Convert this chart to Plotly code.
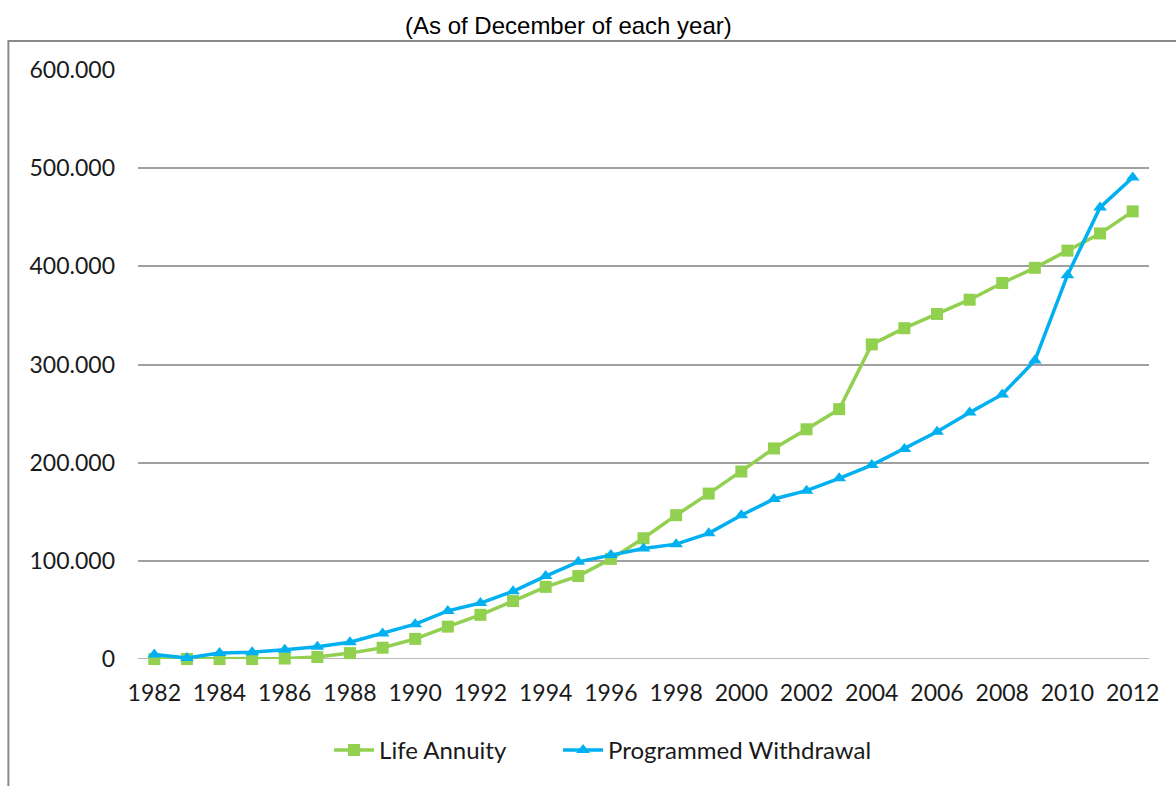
import plotly.graph_objects as go

# Years (December of each year)
years = list(range(1982, 2013))

# Number of pensions by modality
life_annuity = [0, 0, 0, 0, 0.5, 2, 6, 11.5, 20.5, 33, 45, 59, 73.5, 84.5, 102,
                123, 146.5, 168.5, 191, 214.5, 234, 254.5, 320.5, 337, 351.5,
                366, 383, 398.5, 416, 433.5, 456]
programmed_withdrawal = [4.5, 1, 6, 7, 9.5, 12.5, 17, 26, 35.5, 49, 57, 69,
                         84.5, 99, 106, 112.5, 117, 128, 146.5, 163, 171.5, 184,
                         197.5, 214, 231.5, 251, 269.5, 304, 391, 460, 490.5]

y_ticks = [0, 100, 200, 300, 400, 500, 600]
y_tick_labels = ["0", "100.000", "200.000", "300.000", "400.000", "500.000", "600.000"]

GREEN = "#92D050"
BLUE = "#00B0F0"
TICK_FONT = dict(family="Lato, Noto Sans, sans-serif", size=23, color="#1a1a1a")
LEGEND_FONT = dict(family="Lato, Noto Sans, sans-serif", size=24, color="#1a1a1a")

fig = go.Figure()
fig.add_trace(go.Scatter(
    x=years, y=life_annuity, name="Life Annuity", mode="lines+markers",
    line=dict(color=GREEN, width=3.5),
    marker=dict(symbol="square", size=12, color=GREEN),
    legend="legend", cliponaxis=False,
))
fig.add_trace(go.Scatter(
    x=years, y=programmed_withdrawal, name="Programmed Withdrawal", mode="lines+markers",
    line=dict(color=BLUE, width=3.5),
    marker=dict(symbol="triangle-up", size=12, color=BLUE),
    legend="legend2", cliponaxis=False,
))

fig.update_layout(
    width=1176, height=786,
    margin=dict(l=138, r=27, t=70, b=127),
    paper_bgcolor="white", plot_bgcolor="white",
    showlegend=True,
    legend=dict(
        orientation="h", x=0.189, xanchor="left", y=-0.155, yanchor="middle",
        font=LEGEND_FONT, itemwidth=40,
    ),
    legend2=dict(
        orientation="h", x=0.4155, xanchor="left", y=-0.155, yanchor="middle",
        font=LEGEND_FONT, itemwidth=40,
    ),
    xaxis=dict(
        range=[1981.5, 2012.5], tickmode="linear", tick0=1982, dtick=2,
        showgrid=False, zeroline=False, showline=False,
        ticks="", tickfont=TICK_FONT, ticklabelstandoff=18,
    ),
    yaxis=dict(
        range=[0, 600], tickvals=y_ticks, ticktext=y_tick_labels,
        showgrid=True, gridcolor="#a0a0a0", gridwidth=1.5,
        zeroline=False, showline=False, ticks="",
        tickfont=TICK_FONT, ticklabelstandoff=22,
    ),
    annotations=[dict(
        text="(As of December of each year)", xref="paper", yref="paper",
        x=0.4259, y=1.075, xanchor="center", yanchor="middle", showarrow=False,
        font=dict(family="Liberation Sans, Arial, sans-serif", size=24, color="black"),
    )],
    shapes=[
        # zero baseline drawn as a gridline
        dict(type="line", xref="paper", yref="y", x0=0, x1=1, y0=0, y1=0,
             line=dict(color="#a0a0a0", width=1.5), layer="below"),
        # chart frame
        dict(type="rect", xref="paper", yref="paper",
             x0=-0.1282, x1=1.05, y0=-0.25, y1=1.0492,
             line=dict(color="#8a8a8a", width=2), fillcolor="rgba(0,0,0,0)"),
    ],
)

fig.write_html("out.html")
